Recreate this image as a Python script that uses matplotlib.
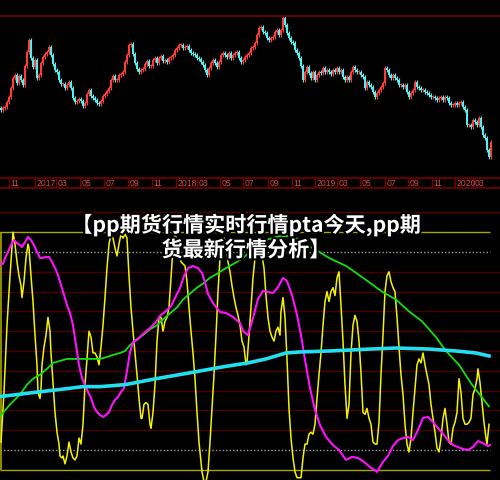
import numpy as np
import matplotlib
matplotlib.use("Agg")
import matplotlib.pyplot as plt
import matplotlib.patheffects as pe

# ---------------- data ----------------
# two-session candle closes (price units), left to right
closes = [7650, 7700, 7725, 7850, 7975, 8200, 8450, 8525, 8325, 8500, 8400, 8275, 8750, 9100, 9400,
          8950, 8725, 8900, 8450, 8525, 8825, 8975, 9050, 9100, 9225, 9025, 8800, 8650, 8600, 8400,
          8300, 8300, 8200, 8275, 8350, 8200, 7950, 7850, 7875, 7925, 7875, 7750, 7825, 8050, 8150,
          8000, 7950, 7900, 7825, 7800, 7875, 8000, 8050, 8125, 8200, 8400, 8500, 8400, 8400, 8525,
          8550, 8600, 8850, 9025, 9275, 9300, 9050, 8825, 8675, 8600, 8650, 8675, 8800, 8875, 8750,
          8750, 8900, 8950, 8825, 8950, 9000, 8875, 8900, 8850, 8950, 8975, 9025, 9150, 9200, 9275,
          9275, 9200, 9225, 9250, 9150, 9075, 9050, 9025, 8950, 8925, 8850, 8775, 8650, 8525, 8700,
          8825, 8900, 8825, 8725, 8850, 9025, 9075, 9025, 8975, 9075, 8950, 9025, 9075, 9100, 8950,
          8850, 8900, 8975, 9025, 9075, 9200, 9225, 9325, 9525, 9700, 9725, 9600, 9575, 9450, 9400,
          9450, 9475, 9600, 9650, 9525, 9650, 9950, 9775, 9575, 9450, 9350, 9325, 9150, 9075, 8950,
          8750, 8400, 8600, 8725, 8575, 8450, 8600, 8400, 8525, 8600, 8575, 8700, 8600, 8650, 8600,
          8550, 8650, 8600, 8700, 8600, 8650, 8475, 8400, 8475, 8400, 8600, 8725, 8650, 8600, 8600,
          8525, 8475, 8200, 8350, 8275, 8225, 8100, 7975, 8075, 8150, 8225, 8325, 8700, 8650, 8525,
          8450, 8525, 8450, 8400, 8275, 8275, 8225, 8275, 8100, 7975, 8075, 8150, 8350, 8225, 8200,
          8150, 8150, 8100, 8075, 8025, 7975, 7975, 7950, 7900, 7950, 7975, 7900, 7975, 7950, 7825,
          7775, 7775, 7825, 7775, 7825, 7850, 7725, 7650, 7275, 7275, 7225, 7400, 7350, 7275, 7450,
          7225, 7025, 6950, 6650, 6475, 6850]
first_open = 7700

date_ticks = [9, 35, 56, 80, 104, 128, 152, 176, 197, 220, 243, 268, 292, 315, 337, 360, 385, 408, 432, 455, 473]
date_labels = ["11", "2017", "03", "05", "07", "09", "11", "2018", "03", "05", "07", "09", "11",
               "2019", "03", "05", "07", "09", "11", "2020", "03"]

# fast oscillator (yellow)
yel_t = [1, 4, 7, 10, 13, 15, 17, 19, 21, 22, 24, 26, 28, 29, 31, 33, 35, 37, 38, 40, 41, 42, 44, 46, 48,
         50, 51, 53, 55, 57, 59, 60, 62, 63, 65, 67, 69, 71, 73, 75, 77, 79, 81, 83, 85, 87, 89, 91, 93,
         95, 97, 99, 101, 103, 105, 107, 109, 111, 113, 115, 117, 119, 121, 123, 125, 127, 129, 131, 133,
         135, 137, 139, 141, 142, 144, 146, 148, 150, 151, 153, 155, 157, 159, 161, 163, 165, 167, 169,
         171, 173, 175, 177, 179, 181, 183, 185, 187, 189, 191, 193, 195, 197, 199, 201, 202, 204, 206,
         208, 210, 212, 214, 216, 218, 220, 222, 224, 226, 228, 230, 232, 234, 236, 238, 240, 242, 244,
         246, 247, 249, 251, 253, 255, 257, 259, 261, 262, 264, 266, 268, 270, 272, 274, 276, 278, 280,
         281, 283, 285, 287, 289, 291, 293, 295, 297, 299, 301, 303, 305, 307, 309, 311, 313, 315, 317,
         319, 321, 323, 325, 327, 329, 331, 333, 335, 337, 339, 341, 343, 345, 347, 349, 351, 353, 355,
         357, 359, 361, 363, 365, 367, 369, 371, 373, 375, 377, 379, 381, 383, 385, 387, 389, 391, 393,
         395, 397, 399, 401, 403, 405, 407, 409, 411, 413, 415, 417, 419, 421, 423, 425, 427, 429, 431,
         433, 435, 437, 439, 441, 443, 445, 447, 449, 451, 453, 455, 457, 459, 461, 463, 465, 467, 469,
         471, 473, 475, 477, 478, 480, 482, 484, 486, 487, 489]
yel_v = [4, 29, 63, 88, 110, 104, 95, 88, 83, 77, 85, 97, 104, 102, 88, 75, 58, 43, 29, 26, 31, 43, 52, 58, 67,
         60, 49, 34, 19, 9, 3, -3, -4, -3, -7, -3, 4, -1, -4, -5, -3, 6, 3, 13, 33, 46, 60, 57, 49,
         49, 47, 43, 52, 63, 77, 92, 104, 109, 107, 102, 98, 104, 109, 107, 109, 107, 88, 72, 60,
         49, 38, 26, 16, 16, 23, 24, 23, 13, 11, 19, 33, 55, 67, 67, 60, 65, 67, 72,
         87, 102, 109, 105, 100, 95, 94, 93, 85, 72, 60, 49, 36, 19, 4, -6, -11, -16, -16,
         -11, 4, 21, 38, 58, 80, 97, 105, 107, 104, 95, 90, 83, 77, 72, 68, 63, 55, 52,
         43, 44, 58, 72, 87, 97, 104, 99, 105, 98, 92, 78, 67, 60, 57, 55, 60, 62, 58,
         70, 77, 67, 46, 21, 6, -4, -11, -14, -14, -14, -4, 3, 3, 8, 9, 8, 13, 26,
         38, 49, 63, 75, 80, 75, 80, 82, 78, 87, 90, 73, 55, 33, 16, 23, 49, 63, 68,
         65, 55, 39, 19, 18, 21, 16, 13, 4, 3, 3, 14, 38, 58, 80, 88, 90, 85, 82,
         80, 67, 52, 38, 28, 13, 3, -1, 6, 19, 31, 43, 46, 44, 49, 43, 38, 33, 23,
         16, 9, 1, -1, 6, 16, 21, 13, 4, 3, 11, 14, 19, 36, 29, 16, 13, 13, 14,
         16, 28, 31, 36, 41, 34, 24, 14, 6, 3, 13]

# slower oscillator (magenta)
mag_t = [0, 3, 5, 8, 11, 14, 17, 20, 22, 25, 28, 31, 34, 37, 40, 43, 46, 49, 52, 55, 58, 61, 64, 67, 70,
         73, 76, 79, 82, 85, 88, 91, 94, 97, 100, 103, 106, 109, 112, 115, 118, 121, 124, 127, 130, 133,
         137, 143, 150, 156, 160, 166, 171, 176, 180, 184, 188, 193, 198, 202, 205, 208, 213, 220, 226,
         233, 240, 243, 248, 253, 258, 263, 268, 273, 278, 283, 287, 292, 297, 301, 305, 310, 315, 320,
         326, 333, 339, 346, 352, 358, 364, 370, 377, 383, 388, 393, 398, 403, 408, 413, 418, 423, 428,
         433, 438, 443, 448, 453, 458, 463, 468, 473, 478, 483, 488, 490]
mag_v = [94, 94, 97, 100, 103.5, 106, 104.5, 103.5, 102.5, 105, 107.6, 106, 103.5, 100, 97, 97, 97.5, 97.5,
         95, 92, 88.4, 83.3, 78.3, 73.2, 69.2, 63.1, 53, 42.9, 36.4, 32.8, 29.3, 26.3, 21.7, 19.2, 17.7,
         16.7, 17.7, 19.2, 22.7, 25.3, 26.8, 29.3, 31.3, 40, 49.5, 54.5, 55.6, 58.6, 61.6, 64.6, 67.7,
         70.2, 72.7, 77.8, 81.8, 87.9, 91.9, 92.9, 91.9, 89.4, 84.8, 78.8, 74.2, 69.7, 69.2, 67.2, 64.1,
         60.1, 58, 66.7, 76.3, 80.3, 79.8, 79.3, 82.3, 86.9, 85.3, 78.3, 68.2, 58, 45.5, 31.3, 20.2, 12.6,
         6.6, 2.5, 0, -5, -3.5, -4, -6, -8.6, -11.1, -6, -3, 2, 5, 6, 6.6, 5, 10.1, 16.2, 16.7,
         14.1, 11.1, 8.1, 5, 2.5, 1.5, 0.5, 0, 1.5, 4.5, 3.5, 2, 2.5]

# medium average (green)
grn_t = [0, 10, 20, 27, 33, 40, 47, 53, 60, 67, 73, 80, 87, 93, 100, 107, 113, 120, 125, 130, 137, 143,
         150, 157, 163, 170, 177, 183, 190, 197, 203, 210, 217, 223, 230, 237, 243, 250, 258, 266, 279,
         290, 296, 307, 313, 329, 333, 346, 363, 382, 396, 409, 422, 436, 446, 459, 472, 489]
grn_v = [17, 23, 28, 33, 36, 38, 41, 44, 45, 46, 46, 46, 46, 46, 46, 47, 48, 49, 50, 53, 56, 58,
         61, 63, 66, 69, 72, 76, 79, 82, 84, 87, 89, 91, 93, 95, 97, 100, 103, 106, 108,
         108, 107, 103, 102, 97, 96, 93, 87, 80, 76, 70, 65, 57, 50, 43, 33, 22]

# long average (cyan)
cyn_t = [0, 17, 33, 50, 67, 83, 100, 125, 156, 190, 223, 248, 266, 286, 299, 329, 371, 396, 429, 456, 476, 489]
cyn_v = [27, 28, 29, 30, 31, 32, 32, 33, 36, 39, 42, 44, 46, 49, 49.5, 50, 51, 51.5, 51, 50, 49, 47.5]

title_lines = ["【pp期货行情实时行情pta今天,pp期", "货最新行情分析】"]

# ---------------- figure ----------------
W, H = 500, 480
fig = plt.figure(figsize=(W / 100, H / 100), dpi=100, facecolor="black")

UP = "#ff3c3c"
DOWN = "#54f0f0"
DARKRED = "#7a0000"

# --- candle panel ---
ax = fig.add_axes([0, (H - 177) / H, 1, (177 - 16) / H])
ax.set_facecolor("black")
c = np.array(closes, dtype=float)
o = np.r_[first_open, c[:-1]]
t = np.arange(len(c)) * 2 + 0.5
wick = 45
hi = np.maximum(o, c) + wick
lo = np.minimum(o, c) - wick
cols = [UP if cc >= oo else DOWN for oo, cc in zip(o, c)]
ax.vlines(t, lo, hi, colors=cols, lw=0.8)
body = np.maximum(np.abs(c - o), 20)
ax.bar(t, body, bottom=np.minimum(o, c), width=1.3, color=cols, linewidth=0)
ax.set_xlim(0, W)
ax.set_ylim(5975, 10000)
for s in ["left", "right", "bottom"]:
    ax.spines[s].set_visible(False)
ax.spines["top"].set_color(DARKRED)
ax.spines["top"].set_linewidth(1.2)
ax.set_xticks([])
ax.set_yticks([])

# --- date strip ---
axd = fig.add_axes([0, (H - 188) / H, 1, 10 / H])
axd.set_facecolor("black")
axd.set_xlim(0, W)
axd.set_ylim(0, 1)
for s in ["left", "right"]:
    axd.spines[s].set_visible(False)
for s in ["top", "bottom"]:
    axd.spines[s].set_color(DARKRED)
    axd.spines[s].set_linewidth(1.2)
axd.set_xticks([])
axd.set_yticks([])
axd.vlines(date_ticks, 0, 1, colors=DARKRED, lw=1.0)
for x, lab in zip(date_ticks, date_labels):
    axd.text(x + 1.5, 0.45, lab, ha="left", va="center", fontsize=6.2,
             color="#d84848", family="Liberation Sans")

# --- indicator panel ---
axb = fig.add_axes([0, 0, 1, 280 / H])
axb.set_facecolor("black")
axb.set_xlim(0, W)
axb.set_ylim(-15.15, 126.26)
for s in axb.spines.values():
    s.set_visible(False)
axb.set_xticks([])
axb.set_yticks([])
axb.axhline(120, color="#5a0000", lw=1.0)
for lv in range(10, 100, 10):
    axb.axhline(lv, color="#4a0000", lw=1.0)
axb.hlines([100, 0], 0, 490, colors="#a0a0a0", lw=1.0, linestyles=(0, (1, 1.5)))
axb.hlines([110, -10], 0, 490, colors="#a8a800", lw=1.0)
axb.vlines([0.6], -10, 110, colors="#a8a800", lw=1.2)

axb.plot(yel_t, yel_v, color="#f4f400", lw=1.1)
axb.plot(grn_t, grn_v, color="#10e010", lw=1.3)
axb.plot(mag_t, mag_v, color="#ff10ff", lw=1.5)
axb.plot(cyn_t, cyn_v, color="#20e0f0", lw=2.6)

# --- title overlay ---
for i, line in enumerate(title_lines):
    fig.text(246 / W, 1 - (225 + 25 * i) / H, line, ha="center", va="center",
             fontsize=15.2, fontweight="bold", color="white",
             family=["Noto Sans CJK SC", "DejaVu Sans"],
             path_effects=[pe.withStroke(linewidth=3, foreground="black")])

fig.savefig("out.png", dpi=100, facecolor="black")
